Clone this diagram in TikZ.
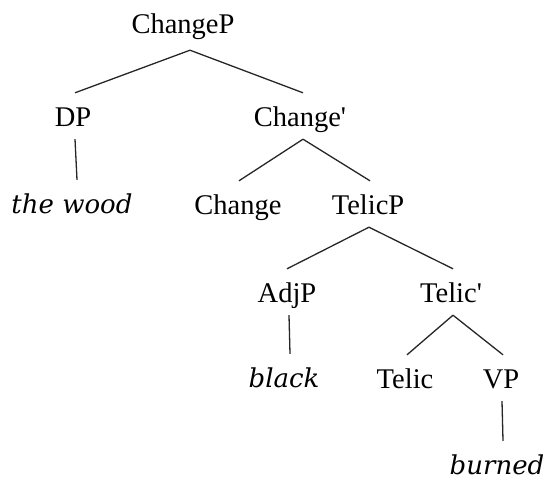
\documentclass[tikz,border=0pt]{standalone}
\usepackage{fontspec}
\setmainfont{Liberation Serif}
\newfontfamily\wordfont{DejaVu Serif}
\begin{document}
\begin{tikzpicture}[x=1pt,y=-1pt,
  lbl/.style={anchor=base,inner xsep=0pt,inner ysep=7pt,text height=26pt,text depth=6pt,
    font=\fontsize{28.5}{30}\selectfont},
  word/.style={lbl,text depth=0pt,font=\fontsize{26}{28}\wordfont\itshape},
  branch/.style={draw=black!85,line width=1.3pt}]
\useasboundingbox (0,0) rectangle (545,479);
% labels of the tree, one row per level
\node[lbl]  (cp)  at (183,33)  {ChangeP};
\node[lbl]  (dp)  at (73,126)  {DP};
\node[lbl]  (cb)  at (300,126) {Change\textquotesingle};
\node[word] (wood) at (72,213) {the wood};
\node[lbl]  (ch)  at (238,214) {Change};
\node[lbl]  (tp)  at (368,214) {TelicP};
\node[lbl]  (adj) at (287,302) {AdjP};
\node[lbl]  (tb)  at (451,302) {Telic\textquotesingle};
\node[word] (blk) at (284,387) {black};
\node[lbl]  (tel) at (405,388) {Telic};
\node[lbl]  (vp)  at (501,388) {VP};
\node[word] (brn) at (497,474) {burned};
% branches
\draw[branch] ([shift={(7,4)}]cp.south) -- ([shift={(2,0)}]dp.north);
\draw[branch] ([shift={(7,4)}]cp.south) -- ([shift={(3,0)}]cb.north);
\draw[branch] ([shift={(2,0)}]dp.south) -- ([shift={(5,0)}]wood.north);
\draw[branch] ([shift={(3,0)}]cb.south) -- ([shift={(1,0)}]ch.north);
\draw[branch] ([shift={(3,0)}]cb.south) -- ([shift={(2,0)}]tp.north);
\draw[branch] ([shift={(1,0)}]tp.south) -- (adj.north);
\draw[branch] ([shift={(1,0)}]tp.south) -- ([shift={(2,0)}]tb.north);
\draw[branch] ([shift={(2,0)}]adj.south) -- ([shift={(6,0)}]blk.north);
\draw[branch] ([shift={(2,0)}]tb.south) -- ([shift={(2,0)}]tel.north);
\draw[branch] ([shift={(2,0)}]tb.south) -- ([shift={(2,0)}]vp.north);
\draw[branch] ([shift={(1,0)}]vp.south) -- ([shift={(6,0)}]brn.north);
\end{tikzpicture}
\end{document}
